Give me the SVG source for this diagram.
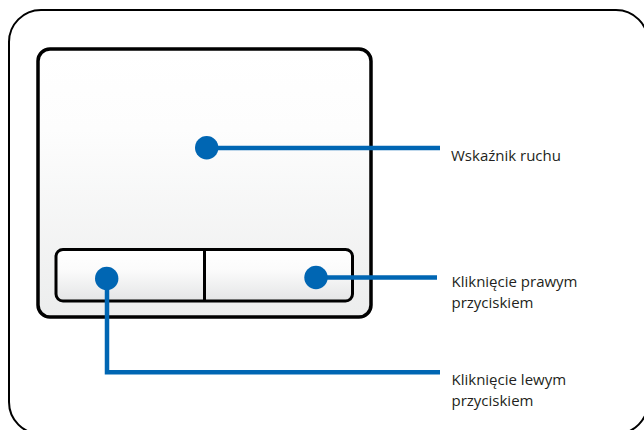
<svg xmlns="http://www.w3.org/2000/svg" width="644" height="430" viewBox="0 0 644 430">
  <defs>
    <linearGradient id="padGrad" x1="0" y1="0" x2="0" y2="1">
      <stop offset="0" stop-color="#ffffff"/>
      <stop offset="0.3" stop-color="#fdfdfd"/>
      <stop offset="1" stop-color="#eceded"/>
    </linearGradient>
    <linearGradient id="btnGrad" x1="0" y1="0" x2="0" y2="1">
      <stop offset="0" stop-color="#ffffff"/>
      <stop offset="0.4" stop-color="#fbfbfb"/>
      <stop offset="1" stop-color="#e4e5e6"/>
    </linearGradient>
    <style>
      .frame { fill: #ffffff; stroke: #000000; stroke-width: 2; }
      .pad { fill: url(#padGrad); stroke: #000000; stroke-width: 3.5; }
      .btn { fill: url(#btnGrad); stroke: #000000; stroke-width: 3; }
      .div { stroke: #000000; stroke-width: 3; fill: none; }
      .dot { fill: #0066b3; }
      .conn { stroke: #0066b3; stroke-width: 4.5; fill: none; }
      .lbl { font-family: "Open Sans", "Liberation Sans", Arial, sans-serif; font-size: 15px; fill: #231f20; }
    </style>
  </defs>

  <g id="frame">
    <rect class="frame" x="9" y="10" width="639" height="424" rx="32" ry="32"/>
  </g>

  <g id="touchpad">
    <rect class="pad" x="38" y="49" width="333" height="268" rx="12" ry="12"/>
  </g>

  <g id="buttons">
    <rect class="btn" x="56" y="249.5" width="296.5" height="51.5" rx="7" ry="7"/>
    <line class="div" x1="204.5" y1="249.5" x2="204.5" y2="301"/>
  </g>

  <g id="connectors">
    <line class="conn" x1="207" y1="148" x2="440" y2="148"/>
    <line class="conn" x1="316" y1="277.5" x2="437" y2="277.5"/>
    <polyline class="conn" points="107,278.5 107,372.3 440,372.3"/>
  </g>

  <g id="dot-pointer">
    <circle class="dot" cx="206.7" cy="147.8" r="11.7"/>
  </g>
  <g id="dot-right">
    <circle class="dot" cx="316" cy="277.5" r="11.7"/>
  </g>
  <g id="dot-left">
    <circle class="dot" cx="106.7" cy="278.5" r="11.7"/>
  </g>

  <g id="label-pointer">
    <text class="lbl" x="451" y="161">Wskaźnik ruchu</text>
  </g>
  <g id="label-right">
    <text class="lbl" x="451.5" y="287">Kliknięcie prawym</text>
    <text class="lbl" x="451.5" y="307.5">przyciskiem</text>
  </g>
  <g id="label-left">
    <text class="lbl" x="451.5" y="385">Kliknięcie lewym</text>
    <text class="lbl" x="451.5" y="405.5">przyciskiem</text>
  </g>
</svg>
